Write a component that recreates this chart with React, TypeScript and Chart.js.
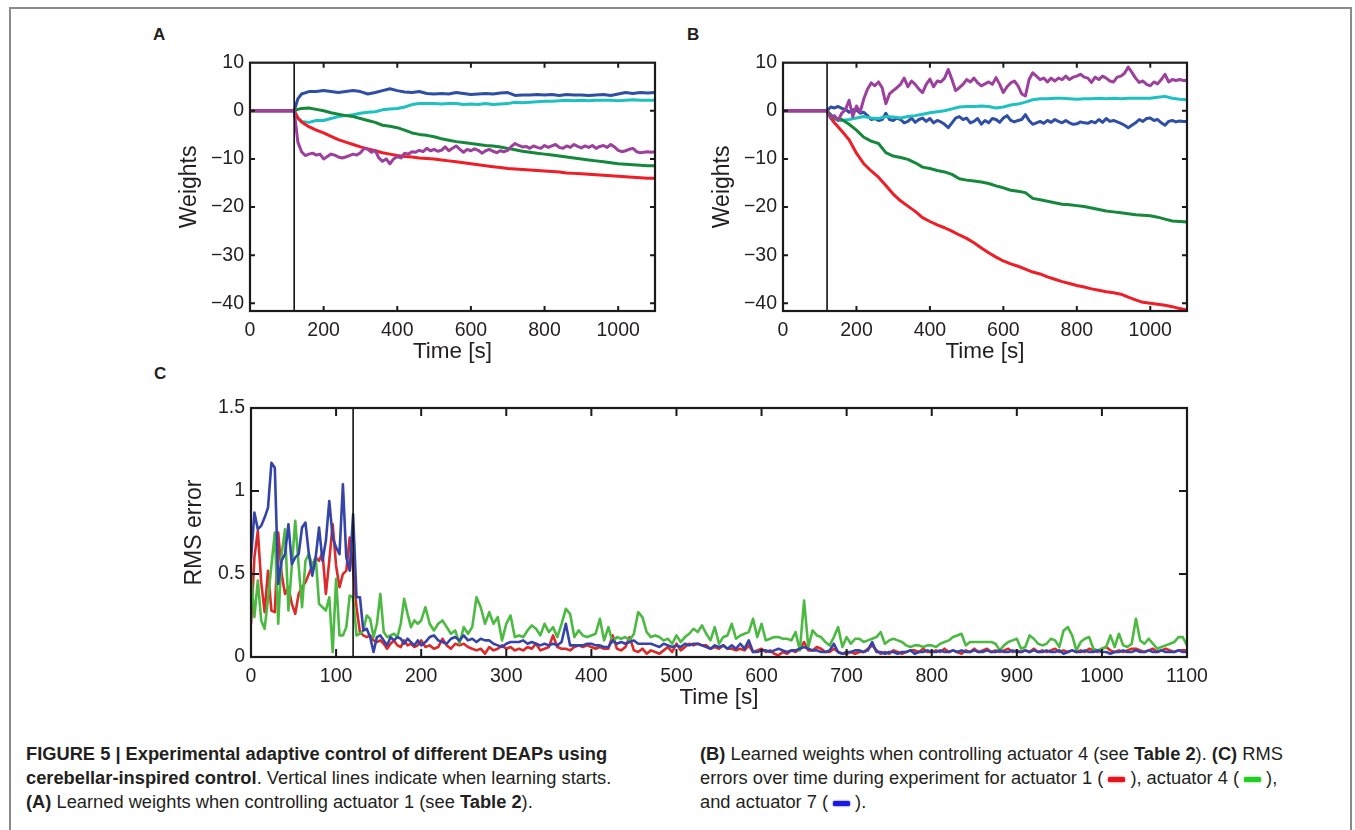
import React, { useEffect, useRef } from 'react';
import { Chart, registerables } from 'chart.js';

Chart.register(...registerables);

const FONT = '"Liberation Sans", Arial, Helvetica, sans-serif';
const INK = '#231f20';

// ---------- axes / ticks ----------
const AB_X_TICKS = [0, 200, 400, 600, 800, 1000];
const AB_Y_TICKS = [-40, -30, -20, -10, 0, 10];
const C_X_TICKS = [0, 100, 200, 300, 400, 500, 600, 700, 800, 900, 1000, 1100];
const C_Y_TICKS = [0, 0.5, 1, 1.5];
const LEARN_START = 120;

// ---------- time grids ----------
const G20 = [0, 120, 130, 140,
  160, 180, 200, 220, 240, 260, 280, 300, 320, 340,
  360, 380, 400, 420, 440, 460, 480, 500, 520, 540,
  560, 580, 600, 620, 640, 660, 680, 700, 720, 740,
  760, 780, 800, 820, 840, 860, 880, 900, 920, 940,
  960, 980, 1000, 1020, 1040, 1060, 1080, 1100];

const G10 = [0,
  120, 130, 140, 150, 160, 170, 180, 190, 200, 210,
  220, 230, 240, 250, 260, 270, 280, 290, 300, 310,
  320, 330, 340, 350, 360, 370, 380, 390, 400, 410,
  420, 430, 440, 450, 460, 470, 480, 490, 500, 510,
  520, 530, 540, 550, 560, 570, 580, 590, 600, 610,
  620, 630, 640, 650, 660, 670, 680, 690, 700, 710,
  720, 730, 740, 750, 760, 770, 780, 790, 800, 810,
  820, 830, 840, 850, 860, 870, 880, 890, 900, 910,
  920, 930, 940, 950, 960, 970, 980, 990, 1000, 1010,
  1020, 1030, 1040, 1050, 1060, 1070, 1080, 1090, 1100];

// ---------- Panel A (actuator 1) ----------
const A_BLUE = [0, 0, 2.5, 3.5,
  4.0, 4.0, 4.2, 4.0, 3.8, 4.0, 4.2, 4.0, 3.5, 3.8,
  4.2, 4.6, 4.2, 3.9, 3.8, 4.0, 3.6, 3.5, 3.6, 3.5,
  3.8, 3.6, 3.4, 3.5, 3.6, 3.5, 3.7, 3.8, 3.2, 3.3,
  3.3, 3.4, 3.3, 3.4, 3.2, 3.4, 3.3, 3.3, 3.2, 3.3,
  3.4, 3.2, 3.5, 3.8, 3.6, 3.8, 3.7, 3.8];
const A_CYAN = [0, 0, -1.5, -2.2,
  -2.4, -2.0, -2.0, -1.6, -1.2, -1.0, -0.8, -0.5, -0.3, -0.2,
  0.2, 0.4, 0.5, 0.8, 1.3, 1.5, 1.5, 1.5, 1.4, 1.5,
  1.5, 1.3, 1.4, 1.3, 1.5, 1.3, 1.4, 1.5, 1.8, 1.7,
  1.8, 1.9, 2.0, 2.0, 2.1, 2.2, 2.1, 2.2, 2.1, 2.2,
  2.2, 2.2, 2.1, 2.2, 2.3, 2.2, 2.2, 2.2];
const A_GREEN = [0, 0, 0.3, 0.5,
  0.6, 0.3, 0, -0.4, -0.7, -1.0, -1.2, -1.6, -2.0, -2.4,
  -3.0, -3.2, -3.5, -4.0, -4.6, -4.9, -5.1, -5.4, -5.8, -6.1,
  -6.4, -6.6, -6.8, -7.0, -7.2, -7.3, -7.5, -7.8, -8.1, -8.4,
  -8.6, -8.8, -9.0, -9.2, -9.4, -9.6, -9.8, -10.0, -10.2, -10.4,
  -10.6, -10.8, -11.0, -11.1, -11.2, -11.3, -11.4, -11.4];
const A_RED = [0, 0, -1.5, -2.3,
  -3.3, -4.0, -4.6, -5.3, -6.0, -6.5, -7.0, -7.5, -7.9, -8.3,
  -8.7, -9.0, -9.3, -9.5, -9.6, -9.8, -9.9, -10.0, -10.2, -10.4,
  -10.6, -10.8, -11.0, -11.2, -11.4, -11.6, -11.8, -12.0, -12.1, -12.2,
  -12.3, -12.4, -12.5, -12.6, -12.7, -12.9, -13.0, -13.1, -13.2, -13.3,
  -13.4, -13.5, -13.6, -13.7, -13.8, -13.9, -14.0, -14.0];
const A_PURPLE = [0,
  0, -6.5, -8.5, -9.3, -9.0, -8.8, -9.2, -9.0, -10.0, -9.5,
  -9.0, -9.2, -9.6, -9.8, -9.6, -9.3, -9.0, -9.2, -8.7, -7.8,
  -8.0, -8.6, -8.2, -9.8, -10.5, -10.0, -11.0, -10.0, -9.5, -9.8,
  -8.8, -9.0, -8.5, -8.6, -8.2, -8.5, -7.8, -8.3, -8.0, -8.4,
  -8.2, -7.5, -8.3, -7.8, -7.3, -8.0, -8.6, -8.0, -8.3, -7.9,
  -8.2, -8.8, -8.3, -8.0, -8.4, -8.7, -8.3, -8.5, -8.2, -7.4,
  -6.8, -7.2, -7.5, -7.4, -7.8, -7.3, -7.6, -7.8, -7.2, -7.6,
  -7.3, -7.0, -7.6, -7.8, -7.3, -7.6, -7.0, -7.4, -7.7, -7.3,
  -7.6, -7.2, -7.8, -7.4, -7.2, -7.6, -7.0, -7.5, -8.2, -8.5,
  -8.3, -8.0, -7.8, -8.5, -8.7, -8.6, -8.5, -8.6, -8.5];

// ---------- Panel B (actuator 4) ----------
const B_RED = [0, 0, -1.5, -2.5,
  -4.2, -6.0, -8.8, -11.0, -12.5, -13.8, -15.5, -17.3, -18.7, -19.8,
  -20.9, -22.2, -23.0, -23.7, -24.3, -25.0, -25.8, -26.5, -27.4, -28.5,
  -29.5, -30.4, -31.2, -31.8, -32.3, -32.9, -33.5, -33.9, -34.5, -35.0,
  -35.5, -35.9, -36.3, -36.6, -37.0, -37.3, -37.6, -37.8, -38.1, -38.7,
  -39.3, -39.8, -40.0, -40.2, -40.4, -40.7, -41.1, -41.4];
const B_GREEN = [0, 0, -0.8, -1.5,
  -1.8, -2.8, -4.0, -5.5, -6.3, -6.8, -8.7, -9.4, -9.7, -10.1,
  -10.8, -11.7, -12.0, -12.4, -12.7, -13.2, -14.1, -14.4, -14.6, -14.8,
  -15.1, -15.6, -16.0, -16.5, -16.7, -17.0, -18.2, -18.5, -18.8, -19.1,
  -19.4, -19.5, -19.7, -19.9, -20.2, -20.5, -20.8, -21.0, -21.2, -21.4,
  -21.6, -21.7, -21.8, -22.1, -22.5, -22.9, -23.0, -23.1];
const B_CYAN = [0, 0, -1.0, -1.8,
  -2.0, -1.8, -1.5, -1.2, -1.5, -1.6, -1.2, -1.3, -1.5, -1.2,
  -1.0, -0.7, -0.4, -0.2, 0.0, 0.4, 0.8, 0.9, 0.9, 1.0,
  0.9, 0.6, 0.8, 1.2, 1.4, 1.8, 2.3, 2.5, 2.5, 2.6,
  2.6, 2.5, 2.4, 2.5, 2.5, 2.6, 2.5, 2.6, 2.5, 2.6,
  2.6, 2.6, 2.6, 2.8, 3.0, 2.6, 2.4, 2.3];
const B_BLUE = [0,
  0, 0.8, 0.6, 0.9, 0.5, 0.3, -0.3, 0.2, 0.2, -0.5,
  -0.3, -1.0, -1.8, -1.6, -2.0, -1.8, -0.5, -1.8, -2.0, -1.5,
  -1.8, -2.5, -2.2, -1.5, -2.4, -1.8, -1.5, -2.2, -1.6, -2.5,
  -2.0, -2.3, -2.8, -3.5, -2.5, -1.5, -1.2, -1.8, -1.5, -2.5,
  -2.2, -1.6, -2.8, -2.0, -2.5, -1.6, -1.8, -2.4, -1.5, -1.0,
  -2.0, -2.3, -2.0, -1.8, -0.8, -2.0, -2.8, -2.5, -2.2, -2.6,
  -2.0, -2.4, -1.8, -2.2, -2.5, -2.0, -2.5, -2.8, -2.7, -2.3,
  -2.5, -2.6, -2.2, -2.5, -1.8, -2.4, -1.6, -2.2, -2.0, -2.3,
  -2.6, -3.0, -3.5, -3.0, -2.5, -1.8, -2.2, -1.6, -1.5, -2.0,
  -1.8, -2.5, -3.0, -2.2, -2.0, -2.3, -2.1, -2.2, -2.2];
const B_PURPLE = [0,
  0, -1.5, -1.0, -2.0, -0.5, 0.2, 2.2, -1.2, 1.0, -0.3,
  2.5, 4.5, 5.8, 5.2, 6.0, 4.8, 1.5, 3.5, 4.2, 4.8,
  5.5, 6.8, 5.0, 6.2, 5.5, 4.5, 3.8, 5.5, 6.6, 5.0,
  6.2, 6.0, 6.8, 8.6, 6.5, 4.2, 4.8, 5.5, 6.5, 6.0,
  6.8, 5.8, 5.2, 5.6, 6.0, 5.5, 6.9, 5.5, 3.8, 5.0,
  5.8, 6.2, 5.2, 3.5, 3.1, 6.5, 7.9, 7.2, 6.5, 6.8,
  6.0, 6.8, 6.2, 6.8, 6.5, 7.2, 6.5, 7.0, 7.2, 7.6,
  7.0, 6.8, 5.9, 7.0, 6.5, 7.2, 6.8, 6.2, 6.0, 7.0,
  7.2, 7.8, 9.1, 8.0, 6.8, 5.9, 6.2, 5.5, 5.2, 6.0,
  5.6, 6.5, 7.6, 6.0, 6.5, 6.3, 6.5, 6.3, 6.3];

// ---------- Panel C (RMS error) ----------
const C_T = [
  0, 4, 8, 12, 16, 20, 24, 28, 32, 36,
  40, 44, 48, 52, 56, 60, 64, 68, 72, 76,
  80, 84, 88, 92, 96, 100, 104, 108, 112, 116,
  120, 124, 128, 132, 136, 140, 144, 148, 152, 156,
  160, 164, 168, 172, 176, 180, 184, 188, 192, 196,
  200,
  205, 210, 215, 220, 225, 230, 235, 240, 245, 250,
  255, 260, 265, 270, 275, 280, 285, 290, 295, 300,
  305, 310, 315, 320, 325, 330, 335, 340, 345, 350,
  355, 360, 365, 370, 375, 380, 385, 390, 395, 400,
  405, 410, 415, 420, 425, 430, 435, 440, 445, 450,
  455, 460, 465, 470, 475, 480, 485, 490, 495, 500,
  505, 510, 515, 520, 525, 530, 535, 540, 545, 550,
  555, 560, 565, 570, 575, 580, 585, 590, 595, 600,
  605, 610, 615, 620, 625, 630, 635, 640, 645, 650,
  655, 660, 665, 670, 675, 680, 685, 690, 695, 700,
  705, 710, 715, 720, 725, 730, 735, 740, 745, 750,
  755, 760, 765, 770, 775, 780, 785, 790, 795, 800,
  805, 810, 815, 820, 825, 830, 835, 840, 845, 850,
  855, 860, 865, 870, 875, 880, 885, 890, 895, 900,
  905, 910, 915, 920, 925, 930, 935, 940, 945, 950,
  955, 960, 965, 970, 975, 980, 985, 990, 995, 1000,
  1005, 1010, 1015, 1020, 1025, 1030, 1035, 1040, 1045, 1050,
  1055, 1060, 1065, 1070, 1075, 1080, 1085, 1090, 1095, 1100];

const C_RED = [
  0.2, 0.6, 0.76, 0.45, 0.27, 0.52, 0.28, 0.27, 0.75, 0.5,
  0.38, 0.42, 0.32, 0.26, 0.38, 0.42, 0.45, 0.5, 0.55, 0.6,
  0.58, 0.63, 0.38, 0.58, 0.8, 0.55, 0.42, 0.5, 0.52, 0.72,
  0.52, 0.3, 0.15, 0.13, 0.12, 0.13, 0.1, 0.09, 0.1, 0.08,
  0.05, 0.08, 0.1, 0.07, 0.06, 0.1, 0.07, 0.08, 0.06, 0.07,
  0.1,
  0.06, 0.07, 0.05, 0.06, 0.11, 0.07, 0.05, 0.08, 0.07, 0.08,
  0.06, 0.05, 0.04, 0.05, 0.02, 0.06, 0.04, 0.05, 0.07, 0.05,
  0.06, 0.04, 0.05, 0.04, 0.06, 0.05, 0.08, 0.04, 0.05, 0.06,
  0.13, 0.06, 0.05, 0.05, 0.04, 0.06, 0.07, 0.06, 0.07, 0.06,
  0.05, 0.06, 0.05, 0.05, 0.13, 0.05, 0.04, 0.06, 0.12, 0.04,
  0.03, 0.05, 0.02, 0.04, 0.03, 0.02, 0.04, 0.06, 0.03, 0.08,
  0.04, 0.06, 0.08, 0.07, 0.08, 0.07, 0.07, 0.05, 0.06, 0.05,
  0.07, 0.05, 0.05, 0.04, 0.05, 0.04, 0.07, 0.03, 0.04, 0.05,
  0.03, 0.04, 0.02, 0.01, 0.03, 0.02, 0.04, 0.03, 0.05, 0.09,
  0.04, 0.04, 0.06, 0.05, 0.03, 0.03, 0.05, 0.03, 0.02, 0.02,
  0.03, 0.02, 0.03, 0.03, 0.05, 0.07, 0.04, 0.02, 0.03, 0.02,
  0.04, 0.03, 0.02, 0.03, 0.04, 0.04, 0.03, 0.05, 0.03, 0.03,
  0.04, 0.03, 0.05, 0.03, 0.04, 0.03, 0.02, 0.04, 0.03, 0.05,
  0.03, 0.04, 0.05, 0.03, 0.04, 0.03, 0.04, 0.05, 0.03, 0.04,
  0.03, 0.04, 0.03, 0.05, 0.03, 0.04, 0.03, 0.04, 0.05, 0.03,
  0.04, 0.03, 0.04, 0.03, 0.04, 0.03, 0.05, 0.04, 0.03, 0.05,
  0.06, 0.04, 0.03, 0.04, 0.03, 0.04, 0.05, 0.05, 0.04, 0.03,
  0.04, 0.05, 0.03, 0.04, 0.05, 0.04, 0.03, 0.04, 0.04, 0.04];

const C_GREEN = [
  0.5, 0.24, 0.46, 0.22, 0.17, 0.35, 0.55, 0.75, 0.2, 0.62,
  0.77, 0.28, 0.55, 0.82, 0.55, 0.3, 0.58, 0.62, 0.55, 0.6,
  0.32, 0.3, 0.28, 0.36, 0.03, 0.47, 0.13, 0.13, 0.18, 0.37,
  0.36, 0.13, 0.14, 0.16, 0.25, 0.23, 0.12, 0.2, 0.38, 0.15,
  0.12, 0.13, 0.14, 0.12, 0.2, 0.35, 0.26, 0.18, 0.22, 0.2,
  0.22,
  0.3, 0.2, 0.16, 0.2, 0.22, 0.18, 0.14, 0.16, 0.08, 0.18,
  0.14, 0.18, 0.36, 0.3, 0.2, 0.27, 0.2, 0.24, 0.1, 0.2,
  0.25, 0.12, 0.13, 0.12, 0.16, 0.19, 0.17, 0.13, 0.2, 0.15,
  0.18, 0.12, 0.2, 0.29, 0.26, 0.12, 0.16, 0.13, 0.12, 0.13,
  0.14, 0.23, 0.1, 0.18, 0.09, 0.12, 0.11, 0.12, 0.1, 0.14,
  0.27, 0.24, 0.15, 0.12, 0.13, 0.12, 0.1, 0.11, 0.08, 0.13,
  0.09, 0.12, 0.14, 0.17, 0.15, 0.19, 0.14, 0.1, 0.18, 0.08,
  0.12, 0.13, 0.2, 0.11, 0.13, 0.14, 0.15, 0.23, 0.12, 0.2,
  0.1, 0.11, 0.12, 0.12, 0.11, 0.11, 0.1, 0.15, 0.04, 0.34,
  0.06, 0.16, 0.13, 0.12, 0.09, 0.07, 0.12, 0.18, 0.06, 0.12,
  0.08, 0.11, 0.11, 0.09, 0.1, 0.11, 0.12, 0.15, 0.08, 0.1,
  0.11, 0.1, 0.09, 0.07, 0.06, 0.07, 0.07, 0.06, 0.07, 0.07,
  0.06, 0.08, 0.09, 0.1, 0.12, 0.13, 0.14, 0.07, 0.09, 0.09,
  0.09, 0.09, 0.09, 0.09, 0.08, 0.04, 0.07, 0.09, 0.1, 0.11,
  0.05, 0.06, 0.13, 0.11, 0.08, 0.07, 0.08, 0.11, 0.1, 0.06,
  0.16, 0.18, 0.13, 0.04, 0.09, 0.11, 0.12, 0.05, 0.04, 0.05,
  0.06, 0.13, 0.06, 0.14, 0.07, 0.06, 0.08, 0.23, 0.1, 0.08,
  0.11, 0.08, 0.05, 0.06, 0.07, 0.08, 0.09, 0.12, 0.12, 0.07];

const C_BLUE = [
  0.59, 0.87, 0.77, 0.79, 0.84, 0.9, 1.17, 1.14, 0.44, 0.58,
  0.62, 0.8, 0.56, 0.6, 0.62, 0.78, 0.81, 0.62, 0.49, 0.6,
  0.78, 0.58, 0.7, 0.94, 0.72, 0.66, 0.62, 1.04, 0.6, 0.52,
  0.86, 0.36, 0.36, 0.16, 0.17, 0.12, 0.03, 0.12, 0.13, 0.1,
  0.07, 0.12, 0.1, 0.12, 0.11, 0.08, 0.11, 0.09, 0.07, 0.1,
  0.07,
  0.09, 0.12, 0.13, 0.1, 0.09, 0.08, 0.11, 0.12, 0.1, 0.13,
  0.1, 0.11, 0.09, 0.11, 0.1, 0.1, 0.08, 0.07, 0.06, 0.08,
  0.09, 0.09, 0.09, 0.1, 0.08, 0.09, 0.08, 0.07, 0.08, 0.07,
  0.08, 0.07, 0.09, 0.2, 0.07, 0.07, 0.07, 0.07, 0.08, 0.08,
  0.07, 0.07, 0.06, 0.06, 0.1, 0.08, 0.09, 0.08, 0.09, 0.1,
  0.08, 0.08, 0.08, 0.08, 0.07, 0.06, 0.08, 0.07, 0.06, 0.07,
  0.06, 0.08, 0.07, 0.08, 0.08, 0.07, 0.06, 0.05, 0.07, 0.06,
  0.07, 0.05, 0.07, 0.05, 0.08, 0.05, 0.1, 0.03, 0.03, 0.04,
  0.04, 0.03, 0.04, 0.05, 0.04, 0.03, 0.04, 0.04, 0.05, 0.06,
  0.05, 0.04, 0.04, 0.03, 0.03, 0.04, 0.08, 0.03, 0.02, 0.03,
  0.03, 0.04, 0.04, 0.03, 0.04, 0.09, 0.03, 0.03, 0.02, 0.03,
  0.03, 0.02, 0.03, 0.03, 0.04, 0.02, 0.03, 0.03, 0.04, 0.03,
  0.03, 0.04, 0.03, 0.03, 0.04, 0.03, 0.04, 0.03, 0.03, 0.04,
  0.03, 0.03, 0.04, 0.03, 0.03, 0.04, 0.03, 0.03, 0.04, 0.03,
  0.03, 0.04, 0.03, 0.04, 0.03, 0.03, 0.04, 0.03, 0.03, 0.04,
  0.02, 0.03, 0.04, 0.03, 0.03, 0.04, 0.03, 0.03, 0.04, 0.03,
  0.03, 0.02, 0.03, 0.03, 0.04, 0.03, 0.03, 0.04, 0.03, 0.03,
  0.04, 0.03, 0.03, 0.04, 0.03, 0.03, 0.03, 0.04, 0.03, 0.03];

// ---------- colours ----------
const COL = {
  blue: '#2f4ea6',
  cyan: '#1ec0c0',
  green: '#16883c',
  red: '#ee1d26',
  purple: '#9d3f9d',
  cRed: '#dc2a2a',
  cGreen: '#4cba42',
  cBlue: '#3444a8',
};

const pts = (t: number[], v: number[]) => t.map((x, i) => ({ x, y: v[i] }));

const fmtNum = (v: number) => (v < 0 ? '\u2212' + String(Math.abs(v)) : String(v));

// draws the MATLAB-like box and inward tick marks from the chart's own scales
const boxPlugin = {
  id: 'axesBox',
  afterDatasetsDraw(chart: any, _args: any, opts: any) {
    const { ctx, chartArea: a } = chart;
    const xs = chart.scales.x;
    const ys = chart.scales.y;
    const len = opts.tickLen || 5;
    ctx.save();
    ctx.strokeStyle = '#1a1a1a';
    ctx.lineWidth = 2;
    ctx.beginPath();
    xs.ticks.forEach((t: any) => {
      const p = xs.getPixelForValue(t.value);
      if (p <= a.left + 1 || p >= a.right - 1) return;
      ctx.moveTo(p, a.bottom);
      ctx.lineTo(p, a.bottom - len);
      ctx.moveTo(p, a.top);
      ctx.lineTo(p, a.top + len);
    });
    ys.ticks.forEach((t: any) => {
      const p = ys.getPixelForValue(t.value);
      if (p <= a.top + 1 || p >= a.bottom - 1) return;
      ctx.moveTo(a.left, p);
      ctx.lineTo(a.left + len, p);
      ctx.moveTo(a.right, p);
      ctx.lineTo(a.right - len, p);
    });
    ctx.stroke();
    ctx.lineWidth = 2.2;
    ctx.strokeRect(a.left, a.top, a.right - a.left, a.bottom - a.top);
    ctx.restore();
  },
};

type Cfg = {
  width: number;
  height: number;
  padTop: number;
  padRight: number;
  yAxisW: number;
  xAxisH: number;
  yTitle: string;
  yTitlePad: number;
  xTitlePad: number;
  xTicks: number[];
  yTicks: number[];
  yMin: number;
  yMax: number;
  tickLen: number;
  datasets: any[];
};

function buildConfig(c: Cfg): any {
  return {
    type: 'line',
    data: { datasets: c.datasets },
    plugins: [boxPlugin],
    options: {
      animation: false,
      responsive: false,
      maintainAspectRatio: false,
      devicePixelRatio: 1,
      events: [],
      parsing: false,
      normalized: true,
      layout: { padding: { top: c.padTop, right: c.padRight, left: 0, bottom: 0 } },
      elements: { point: { radius: 0 }, line: { tension: 0, borderCapStyle: 'round', borderJoinStyle: 'round' } },
      plugins: {
        legend: { display: false },
        tooltip: { enabled: false },
        title: { display: false },
        axesBox: { tickLen: c.tickLen },
      },
      scales: {
        x: {
          type: 'linear',
          position: 'bottom',
          min: 0,
          max: 1100,
          afterBuildTicks: (s: any) => {
            s.ticks = c.xTicks.map((v) => ({ value: v }));
          },
          afterFit: (s: any) => {
            s.height = c.xAxisH;
          },
          grid: { display: false, drawTicks: false },
          border: { display: false },
          ticks: {
            color: INK,
            font: { family: FONT, size: 19.5 },
            padding: 8,
            maxRotation: 0,
            autoSkip: false,
            callback: (v: any) => fmtNum(Number(v)),
          },
          title: {
            display: true,
            text: 'Time [s]',
            color: INK,
            font: { family: FONT, size: 22.5 },
            padding: { top: 0, bottom: c.xTitlePad },
          },
        },
        y: {
          type: 'linear',
          position: 'left',
          min: c.yMin,
          max: c.yMax,
          afterBuildTicks: (s: any) => {
            s.ticks = c.yTicks.map((v) => ({ value: v }));
          },
          afterFit: (s: any) => {
            s.width = c.yAxisW;
          },
          grid: { display: false, drawTicks: false },
          border: { display: false },
          ticks: {
            color: INK,
            font: { family: FONT, size: 19.5 },
            padding: 6,
            autoSkip: false,
            callback: (v: any) => fmtNum(Number(v)),
          },
          title: {
            display: true,
            text: c.yTitle,
            color: INK,
            font: { family: FONT, size: 23 },
            padding: { top: c.yTitlePad, bottom: 0 },
          },
        },
      },
    },
  };
}

const lineDs = (data: any[], color: string, width: number) => ({
  data,
  borderColor: color,
  backgroundColor: color,
  borderWidth: width,
  pointRadius: 0,
  fill: false,
});

function weightDatasets(
  blue: number[], blueT: number[],
  cyan: number[], cyanT: number[],
  green: number[], greenT: number[],
  red: number[], redT: number[],
  purple: number[], purpleT: number[],
  yMin: number, yMax: number,
) {
  // first in list = drawn on top
  return [
    lineDs(pts([LEARN_START, LEARN_START], [yMin, yMax]), '#111111', 1.6),
    lineDs(pts(purpleT, purple), COL.purple, 3),
    lineDs(pts(redT, red), COL.red, 3),
    lineDs(pts(greenT, green), COL.green, 3),
    lineDs(pts(cyanT, cyan), COL.cyan, 3),
    lineDs(pts(blueT, blue), COL.blue, 3),
  ];
}

const W_MIN = -41.6;
const W_MAX = 10;

function ChartCanvas({ left, top, cfg }: { left: number; top: number; cfg: Cfg }) {
  const ref = useRef<HTMLCanvasElement>(null);
  useEffect(() => {
    const chart = new Chart(ref.current as HTMLCanvasElement, buildConfig(cfg));
    return () => chart.destroy();
  }, []);
  return (
    <canvas
      ref={ref}
      width={cfg.width}
      height={cfg.height}
      style={{ position: 'absolute', left, top, width: cfg.width, height: cfg.height, display: 'block' }}
    />
  );
}

const cfgA: Cfg = {
  width: 520, height: 330, padTop: 17, padRight: 25, yAxisW: 90, xAxisH: 64,
  yTitle: 'Weights', yTitlePad: 16, xTitlePad: 10,
  xTicks: AB_X_TICKS, yTicks: AB_Y_TICKS, yMin: W_MIN, yMax: W_MAX, tickLen: 5,
  datasets: weightDatasets(A_BLUE, G20, A_CYAN, G20, A_GREEN, G20, A_RED, G20, A_PURPLE, G10, W_MIN, W_MAX),
};

const cfgB: Cfg = {
  width: 519, height: 330, padTop: 17, padRight: 25, yAxisW: 90, xAxisH: 64,
  yTitle: 'Weights', yTitlePad: 16, xTitlePad: 10,
  xTicks: AB_X_TICKS, yTicks: AB_Y_TICKS, yMin: W_MIN, yMax: W_MAX, tickLen: 5,
  datasets: weightDatasets(B_BLUE, G10, B_CYAN, G20, B_GREEN, G20, B_RED, G20, B_PURPLE, G10, W_MIN, W_MAX),
};

const cfgC: Cfg = {
  width: 1061, height: 331, padTop: 18, padRight: 35, yAxisW: 90, xAxisH: 64,
  yTitle: 'RMS error', yTitlePad: 20, xTitlePad: 10,
  xTicks: C_X_TICKS, yTicks: C_Y_TICKS, yMin: 0, yMax: 1.5, tickLen: 8,
  datasets: [
    lineDs(pts([LEARN_START, LEARN_START], [0, 1.5]), '#111111', 1.6),
    lineDs(pts(C_T, C_BLUE), COL.cBlue, 2.6),
    lineDs(pts(C_T, C_GREEN), COL.cGreen, 2.6),
    lineDs(pts(C_T, C_RED), COL.cRed, 2.6),
  ],
};

const capStyle: React.CSSProperties = {
  position: 'absolute',
  fontFamily: FONT,
  fontSize: 18.3,
  lineHeight: '24px',
  color: INK,
  whiteSpace: 'nowrap',
};

const Swatch = ({ color }: { color: string }) => (
  <span
    style={{
      display: 'inline-block',
      width: 17,
      height: 5,
      background: color,
      borderRadius: 1.5,
      verticalAlign: 'middle',
      margin: '0 5px',
      boxShadow: '0 0 2px ' + color,
    }}
  />
);

const panelLabel = (text: string, left: number, top: number) => (
  <div
    style={{
      position: 'absolute',
      left,
      top,
      fontFamily: FONT,
      fontWeight: 'bold',
      fontSize: 17,
      lineHeight: '17px',
      color: INK,
    }}
  >
    {text}
  </div>
);

export default function App() {
  return (
    <div style={{ position: 'absolute', left: 0, top: 0, width: 1355, height: 830, background: '#ffffff', overflow: 'hidden' }}>
      <div
        style={{
          position: 'absolute',
          left: 9,
          top: 7,
          width: 1343,
          height: 830,
          borderLeft: '2px solid #8a8a8a',
          borderTop: '2px solid #8a8a8a',
          borderRight: '2px solid #8a8a8a',
          boxSizing: 'border-box',
        }}
      />
      {panelLabel('A', 153, 26)}
      {panelLabel('B', 687, 26)}
      {panelLabel('C', 154, 365)}
      <ChartCanvas left={160} top={45} cfg={cfgA} />
      <ChartCanvas left={693} top={45} cfg={cfgB} />
      <ChartCanvas left={161} top={390} cfg={cfgC} />
      <div style={{ ...capStyle, left: 26, top: 742 }}>
        <div><b>FIGURE 5 | Experimental adaptive control of different DEAPs using</b></div>
        <div><b>cerebellar-inspired control</b>. Vertical lines indicate when learning starts.</div>
        <div><b>(A)</b> Learned weights when controlling actuator 1 (see <b>Table 2</b>).</div>
      </div>
      <div style={{ ...capStyle, left: 700, top: 742 }}>
        <div><b>(B)</b> Learned weights when controlling actuator 4 (see <b>Table 2</b>). <b>(C)</b> RMS</div>
        <div>
          errors over time during experiment for actuator 1 (<Swatch color="#e8141c" />), actuator 4 (<Swatch color="#22cc22" />),
        </div>
        <div>
          and actuator 7 (<Swatch color="#1a1ae0" />).
        </div>
      </div>
    </div>
  );
}
